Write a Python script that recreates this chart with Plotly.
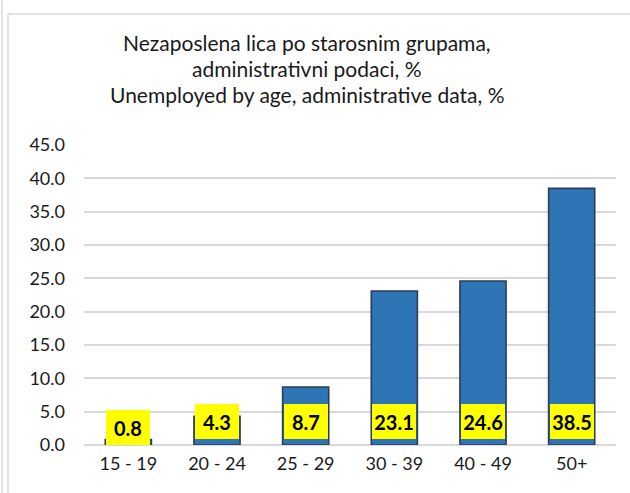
import plotly.graph_objects as go

categories = ["15 - 19", "20 - 24", "25 - 29", "30 - 39", "40 - 49", "50+"]
values = [0.8, 4.3, 8.7, 23.1, 24.6, 38.5]
title_lines = [
    "Nezaposlena lica po starosnim grupama,",
    "administrativni podaci, %",
    "Unemployed by age, administrative data, %",
]

W, H = 630, 493
L, R, T, B = 84, 14, 145, 48
PW, PH = W - L - R, H - T - B

def px_x(p):
    return (p - L) / PW

def px_y(p):
    return (H - B - p) / PH

FONT = "Lato, Open Sans, sans-serif"

fig = go.Figure()
fig.add_trace(go.Bar(
    x=categories, y=values,
    marker=dict(color="#2E75B6", line=dict(color="#2F3C57", width=1.6)),
    width=0.52,
    hoverinfo="x+y",
))

annotations = []
for cat, v in zip(categories, values):
    annotations.append(dict(
        x=cat, y=0, xref="x", yref="y",
        text="<b>%.1f</b>" % v,
        showarrow=False,
        yanchor="bottom",
        yshift=0 if v < 1 else 6,
        bgcolor="#FFFF00",
        width=44, height=35,
        borderpad=0, borderwidth=0,
        font=dict(family=FONT, size=20, color="#000000"),
    ))

for line, py in zip(title_lines, [42, 69, 94]):
    annotations.append(dict(
        x=px_x(307), y=px_y(py), xref="paper", yref="paper",
        text=line, showarrow=False, xanchor="center", yanchor="middle",
        font=dict(family=FONT, size=21, color="#1a1a1a"),
    ))

shapes = [
    dict(type="line", xref="paper", yref="paper",
         x0=px_x(2), x1=px_x(2), y0=px_y(0), y1=px_y(H + 5),
         line=dict(color="#D9D9D9", width=1.5)),
    dict(type="line", xref="paper", yref="paper",
         x0=px_x(8), x1=px_x(8), y0=px_y(14), y1=px_y(H + 5),
         line=dict(color="#D9D9D9", width=1.5)),
    dict(type="line", xref="paper", yref="paper",
         x0=px_x(8), x1=px_x(W + 5), y0=px_y(14), y1=px_y(14),
         line=dict(color="#D9D9D9", width=1.5)),
]

fig.update_layout(
    width=W, height=H,
    margin=dict(l=L, r=R, t=T, b=B, pad=0),
    paper_bgcolor="white", plot_bgcolor="white",
    showlegend=False,
    annotations=annotations,
    shapes=shapes,
    font=dict(family=FONT, size=18, color="#1a1a1a"),
    bargap=0.48,
)
fig.update_yaxes(
    range=[0, 45], dtick=5, tickformat=".1f",
    showgrid=True, gridcolor="#D9D9D9", gridwidth=1.5,
    zeroline=True, zerolinecolor="#D9D9D9", zerolinewidth=1.5,
    showline=False, ticks="", ticklabelstandoff=18,
    tickfont=dict(family=FONT, size=18, color="#1a1a1a"),
    fixedrange=True,
)
fig.update_xaxes(
    showgrid=False, showline=False, ticks="", ticklabelstandoff=6,
    tickfont=dict(family=FONT, size=18, color="#1a1a1a"),
    fixedrange=True,
)

fig.write_html(
    "out.html",
    config={"displayModeBar": False},
    post_script="document.body.style.margin='0';document.body.style.overflow='hidden';",
)
